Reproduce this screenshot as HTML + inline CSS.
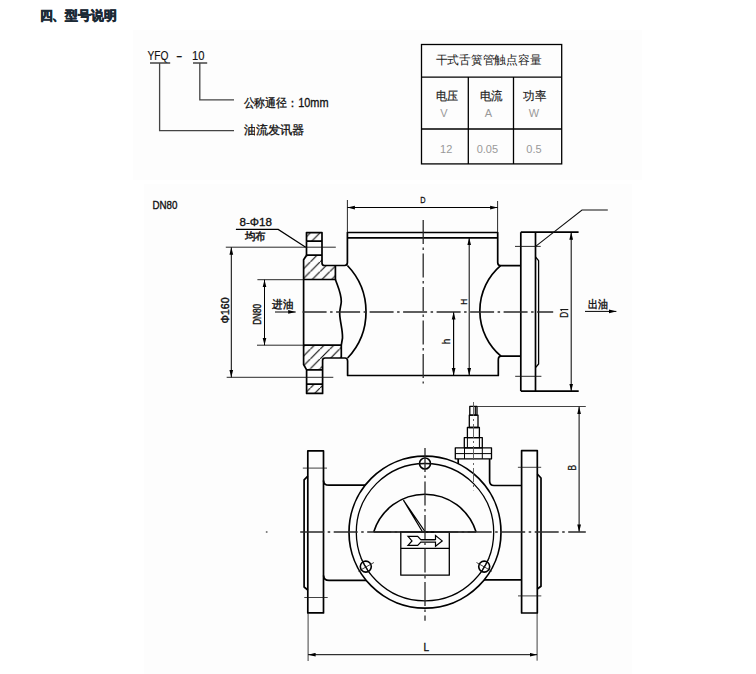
<!DOCTYPE html>
<html><head><meta charset="utf-8">
<style>
html,body{margin:0;padding:0;background:#fff;width:756px;height:674px;overflow:hidden}
svg{display:block;position:absolute;left:0;top:0}
text{font-family:"Liberation Sans",sans-serif}
</style></head><body>
<svg width="756" height="674" viewBox="0 0 756 674">
<defs>
<pattern id="hat" patternUnits="userSpaceOnUse" width="9.7" height="9.7" patternTransform="rotate(0)">
<path d="M-1,10.7 L10.7,-1 M-3,2 L2,-3 M7.7,12.7 L12.7,7.7" stroke="#111" stroke-width="1.2"/>
</pattern>
<marker id="ar" viewBox="0 0 8 4" refX="8" refY="2" markerWidth="7.5" markerHeight="4.4" markerUnits="userSpaceOnUse" orient="auto-start-reverse">
<path d="M0,0 L8,2 L0,4 Z" fill="#000"/>
</marker>
</defs>

<!-- faint backgrounds -->
<rect x="133" y="30" width="509" height="150" fill="#fdfdfd"/>
<rect x="144" y="184" width="488" height="490" fill="#fdfdfd"/>

<!-- header -->
<text x="39.5" y="20" font-size="12.5" font-weight="bold" fill="#1c2a36" stroke="#1c2a36" stroke-width="0.7" textLength="77" lengthAdjust="spacingAndGlyphs">四、型号说明</text>

<!-- YFQ - 10 -->
<g fill="#111" font-size="13" stroke="#111" stroke-width="0.15">
<text x="147.5" y="59.6" textLength="21" lengthAdjust="spacingAndGlyphs">YFQ</text>
<text x="176" y="59.6" textLength="6.5" lengthAdjust="spacingAndGlyphs">-</text>
<text x="192" y="59.6" textLength="12.5" lengthAdjust="spacingAndGlyphs">10</text>
</g>
<g stroke="#444" stroke-width="1.3" fill="none">
<path d="M150,63 H170.2 M193,63 H207.2"/>
<path d="M159.6,63 V130.7 H234"/>
<path d="M199.8,63 V99.8 H234"/>
</g>
<g fill="#111" font-size="12" stroke="#111" stroke-width="0.3">
<text x="243.5" y="107" textLength="85" lengthAdjust="spacingAndGlyphs">公称通径：10mm</text>
<text x="243.5" y="134" textLength="61" lengthAdjust="spacingAndGlyphs">油流发讯器</text>
</g>

<!-- table -->
<g stroke="#000" stroke-width="1.3" fill="none">
<rect x="421.5" y="44.5" width="140.2" height="119.4"/>
<path d="M421.5,77.2 H561.7 M421.5,129 H561.7 M468.3,77.2 V163.9 M513.5,77.2 V163.9"/>
</g>
<g font-size="11.5" fill="#222" stroke="#222" stroke-width="0.2">
<text x="435.5" y="63.5" stroke-width="0" textLength="106" lengthAdjust="spacingAndGlyphs">干式舌簧管触点容量</text>
<text x="435.5" y="99.5" textLength="22" lengthAdjust="spacingAndGlyphs">电压</text>
<text x="479.5" y="99.5" textLength="23" lengthAdjust="spacingAndGlyphs">电流</text>
<text x="523" y="99.5" textLength="23" lengthAdjust="spacingAndGlyphs">功率</text>
</g>
<g font-size="11" fill="#999" text-anchor="middle">
<text x="443.8" y="117">V</text>
<text x="488.4" y="117">A</text>
<text x="534" y="117">W</text>
<text x="446.2" y="152.8">12</text>
<text x="487.4" y="152.8">0.05</text>
<text x="534" y="152.8">0.5</text>
</g>

<!-- DN80 label -->
<text x="152.5" y="209" font-size="11" fill="#111" stroke="#111" stroke-width="0.35" textLength="25" lengthAdjust="spacingAndGlyphs">DN80</text>

<!-- ============ TOP VIEW ============ -->
<!-- hatch fills -->
<g fill="url(#hat)" stroke="none">
<path d="M306.5,232.6 H322 V241.2 H306.5 Z"/>
<path d="M306.5,255.1 H322 V263 Q322,265.5 324.5,265.5 H335.4 V279.5 H303.6 V259.7 Z"/>
<path d="M303.6,345.2 H341.3 V358 H325 Q322.6,358 322.6,360.4 V369.9 H306.6 L303.6,364.5 Z"/>
<path d="M306.6,384.1 H322.6 V393.4 H306.6 Z"/>
</g>
<g stroke="#000" stroke-width="1.7" fill="none" stroke-linejoin="round">
<!-- left flange outline -->
<path d="M306.5,241.2 V232.6 H322 V263 Q322,265.5 324.5,265.5 H344.6 Q347.4,265.5 347.4,262.5 V232.5 H497.7 V262.5 Q497.7,265.7 500.6,265.7 H520.8"/>
<path d="M306.5,241.2 H322 M306.5,255.1 H322 M306.5,241.2 V255.1"/>
<path d="M306.5,255.1 L303.6,259.7 V364.5 L306.6,369.9 V393.4 H322.6 V360.4 Q322.6,358 325,358 H345 Q347.6,358 347.6,361 V375.5 H498.3 V360 Q498.3,356.2 501,356.2 H520.8"/>
<path d="M306.6,369.9 H322.6 M306.6,384.1 H322.6"/>
<path d="M303.6,279.5 H335.4 V265.5 M303.6,345.2 H341.3 V358"/>
<path d="M347.4,237.8 H497.7"/>
<!-- wavy bore line -->
<path d="M335.4,279.5 C338,287 341.5,294 341.3,301.7 C341,306 339.5,309 339.7,314 C340,322 342.8,330 342.5,338 L341.3,345.2"/>
<!-- arcs -->
<path d="M347.4,265.5 A67,67 0 0 1 347.6,358"/>
<path d="M500.6,265.7 A59.3,59.3 0 0 0 501,356.2"/>
<!-- right flange -->
<path d="M520.8,232.2 V391.1 M535.5,232.2 V391.1 M520.8,232.2 H578.6 M520.8,391.1 H578.7"/>
<path d="M535.5,257 L538.6,260.7 V364 L535.5,367.6" stroke-width="1.3"/>
</g>
<!-- thin lines top view -->
<g stroke="#111" stroke-width="0.9" fill="none">
<path d="M225.8,247.2 H335.8 M226.7,377.3 H333.3"/>
<path d="M257.4,279.7 H303.6 M257,345.2 H303.6"/>
<path d="M515,246.4 H540.7 M515.2,376.3 H541.4"/>
<path d="M347.4,200 V232.5 M497.6,201 V232.5"/>
<path d="M235.9,229.4 H278.2 L305.7,247.2" stroke="#000" stroke-width="1.2"/>
<path d="M535.6,246.4 L582,210 H607.8" stroke-width="1.1"/>
</g>
<g stroke="#000" stroke-width="1" fill="none" marker-start="url(#ar)" marker-end="url(#ar)">
<path d="M347.4,207.5 H497.6"/>
<path d="M231.3,247.3 V377.4"/>
<path d="M264.5,279.7 V345.2"/>
<path d="M469.2,237.8 V375.5"/>
<path d="M571.2,232.2 V391.1"/>
</g>
<g stroke="#000" stroke-width="1" fill="none" marker-end="url(#ar)">
<path d="M453.6,312 V375.5"/>
<path d="M453.6,375.5 V312"/>
<path d="M275,312 H295.7"/>
<path d="M585,311.4 H616.4"/>
</g>
<!-- center lines -->
<g stroke="#2a2a2a" stroke-width="1.3" fill="none" stroke-dasharray="24 3.5 2.5 3.5">
<path d="M302.6,312 H553.2"/>
<path d="M423.2,220 V383.4"/>
</g>
<text x="420.2" y="202.8" font-size="9.8" fill="#111" stroke="#111" stroke-width="0.3" textLength="5.3" lengthAdjust="spacingAndGlyphs">D</text>
<g font-size="11" fill="#111" stroke="#111" stroke-width="0.4">
<text x="272" y="308" textLength="21" lengthAdjust="spacingAndGlyphs">进油</text>
<text x="587.6" y="308" textLength="20" lengthAdjust="spacingAndGlyphs">出油</text>
<text x="239.5" y="226" font-size="10" stroke-width="0.3" textLength="32.5" lengthAdjust="spacingAndGlyphs">8-Φ18</text>
<text x="244.5" y="240" font-size="10.5" stroke-width="0.45" textLength="21" lengthAdjust="spacingAndGlyphs">均布</text>
</g>
<g font-size="10" fill="#111" stroke="#111" stroke-width="0.3">
<text transform="translate(229.4,323.4) rotate(-90)" stroke-width="0.4" textLength="26" lengthAdjust="spacingAndGlyphs">Φ160</text>
<text transform="translate(261.4,324.8) rotate(-90)" stroke-width="0.4" textLength="20.8" lengthAdjust="spacingAndGlyphs">DN80</text>
<text transform="translate(466.5,304.8) rotate(-90)" font-size="9.5" textLength="6" lengthAdjust="spacingAndGlyphs">H</text>
<text transform="translate(449.9,344.3) rotate(-90)" font-size="10">h</text>
<text transform="translate(568.3,317.8) rotate(-90)" font-size="11" textLength="6" lengthAdjust="spacingAndGlyphs">D</text>
<path d="M560.5,309.6 H568.3 M560.5,309.6 L561.8,311.2" stroke="#000" stroke-width="1" fill="none"/>
</g>

<!-- ============ BOTTOM VIEW ============ -->
<g stroke="#000" stroke-width="1.7" fill="none" stroke-linejoin="round">
<!-- flanges -->
<rect x="307.8" y="450.9" width="15.7" height="162"/>
<rect x="521.6" y="450.6" width="15.7" height="162.4"/>
<path d="M307.8,476.2 L304.1,479.8 V587 L307.8,590"/>
<path d="M537.3,474 L541,478 V586.2 L537.3,589"/>
<!-- pipe -->
<path d="M323.5,480.4 Q323.5,485.2 329,485.2 H365.4"/>
<path d="M323.6,575.5 Q323.6,580.4 329,580.4 H366"/>
<path d="M489.6,458.9 V481 Q489.6,485.5 494,485.5 H521.6"/>
<path d="M484,579.8 H521.6"/>
<path d="M458.2,458.9 V464"/>
<!-- circles -->
<circle cx="425" cy="532.2" r="76"/>
<circle cx="425" cy="532.2" r="68.7" stroke-width="1.3"/>
<!-- dial -->
<path d="M373.7,532 A53.6,53.6 0 0 1 476.1,532" stroke-width="1.6"/>
<path d="M373.7,532 H476.1" stroke-width="1.4"/>
<rect x="400.8" y="532" width="48.5" height="43.2" stroke-width="1.3"/>
<path d="M400.8,548.4 H449.3" stroke-width="1.1"/>
<!-- switch -->
<rect x="469.8" y="406.3" width="7.2" height="8.8" stroke-width="1.3"/>
<rect x="469.3" y="415.1" width="8.7" height="12.4" stroke-width="1.3"/>
<rect x="467.4" y="427.5" width="12" height="10.1" stroke-width="1.3"/>
<rect x="464.3" y="437.6" width="18" height="10.2" stroke-width="1.3"/>
<rect x="455.3" y="447.8" width="36.2" height="11.1" stroke-width="1.3"/>
<path d="M455.3,453.6 H491.5 M464.5,447.8 V458.9 M482.3,447.8 V458.9 M467.4,437.6 V447.8 M479.4,437.6 V447.8" stroke-width="1"/>
<path d="M475.3,406.3 V415.1" stroke-width="1.2"/>
</g>
<!-- needle -->
<path d="M403.5,500.3 L422.6,532 M403.5,500.3 L425.3,532" stroke="#000" stroke-width="1.25" fill="none"/>
<!-- arrow icon -->
<path d="M408,536.4 H417.7 L420.8,539.6 H435.5 V535.5 L442.2,540.9 L435.5,546.2 V542.2 H420.8 L417.7,545.3 H408 L412,540.9 Z" fill="#fff" stroke="#000" stroke-width="1.2" stroke-linejoin="miter"/>
<path d="M421,540.9 H435" stroke="#888" stroke-width="1.6"/>
<!-- bolts -->
<g stroke="#000" stroke-width="1.6" fill="none">
<circle cx="425" cy="463.5" r="5.5"/>
<circle cx="365.8" cy="566.6" r="5.5"/>
<circle cx="484.2" cy="566.6" r="5.5"/>
</g>
<g stroke="#111" stroke-width="0.8" fill="none">
<path d="M418,463.5 H432"/>
<path d="M358.3,571.3 L373.9,562.5 M361,558.5 L370.5,574.7"/>
<path d="M476.5,562.5 L492,571.3 M479.5,574.7 L489,558.5"/>
<path d="M302.8,468.1 H327 M304.3,597.5 H327.7 M517.9,467.3 H541.2 M518,595.9 H541.3"/>
<path d="M477.2,406.5 H585.8"/>
<path d="M308.1,613 V661 M537.1,613 V660.7"/>
</g>
<g stroke="#000" stroke-width="1" fill="none" marker-start="url(#ar)" marker-end="url(#ar)">
<path d="M579.1,406.7 V531.9"/>
<path d="M308.1,654.7 H537.1"/>
</g>
<g stroke="#2a2a2a" stroke-width="1.3" fill="none" stroke-dasharray="24 3.5 2.5 3.5">
<path d="M300.2,532 H585.8"/>
<path d="M425,448 V620.7"/>
</g>
<path d="M473.5,402 V490.4" stroke="#555" stroke-width="0.9" stroke-dasharray="14 3 2 3"/>
<circle cx="266.7" cy="531.9" r="1" fill="#777"/>
<text x="423.6" y="651" font-size="11.5" fill="#111" stroke="#111" stroke-width="0.35" textLength="5.6" lengthAdjust="spacingAndGlyphs">L</text>
<text transform="translate(575.8,470.4) rotate(-90)" font-size="11" fill="#111" stroke="#111" stroke-width="0.3" textLength="5.6" lengthAdjust="spacingAndGlyphs">B</text>
</svg>
</body></html>
